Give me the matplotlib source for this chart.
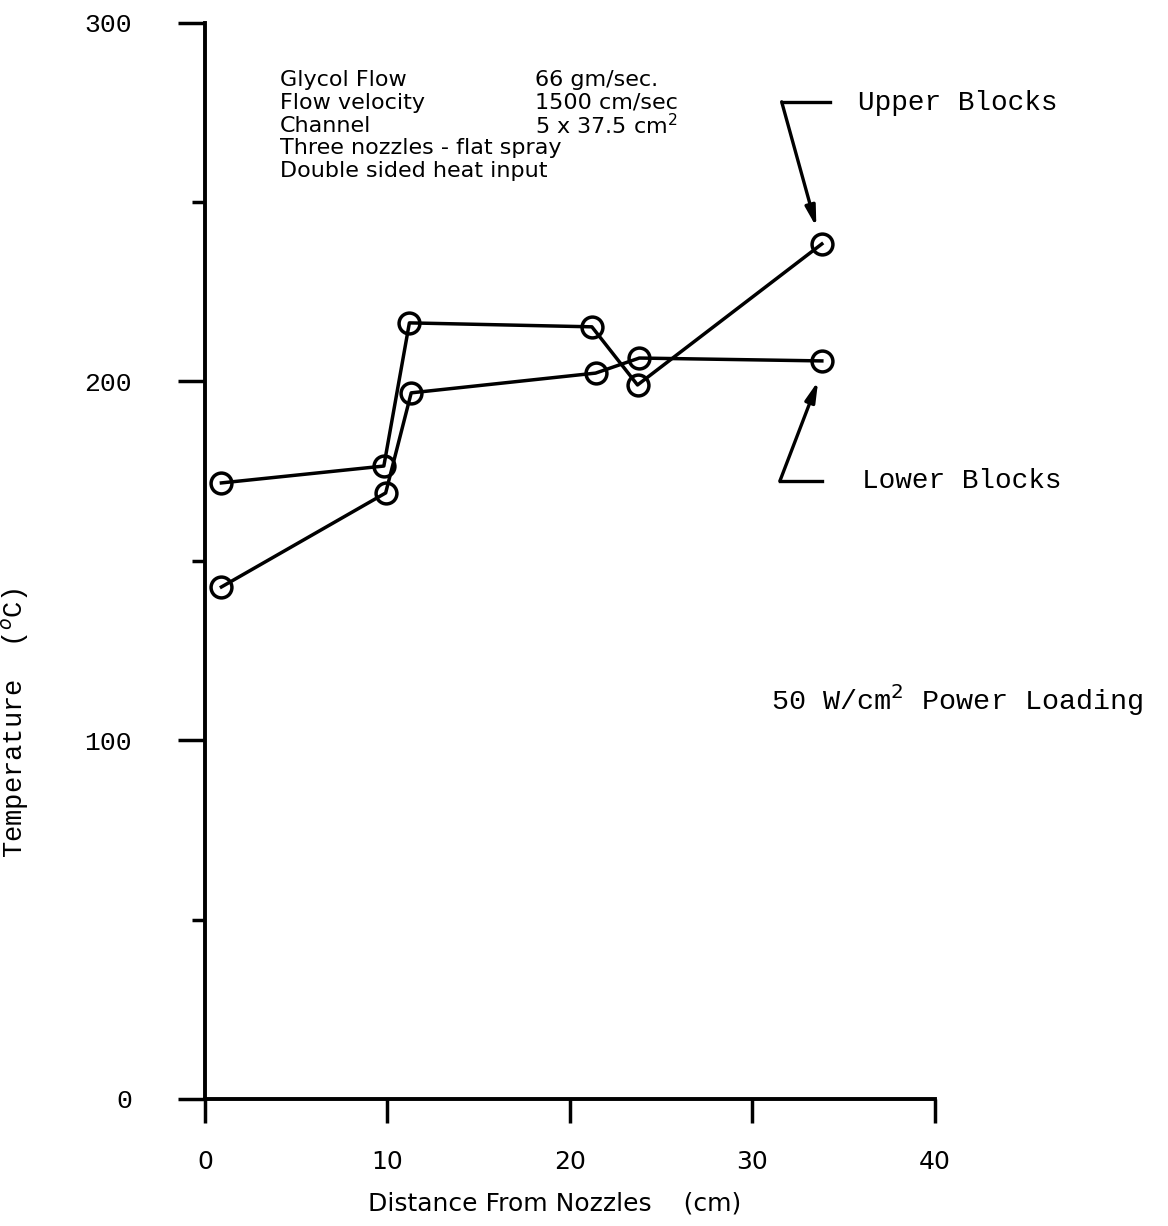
import matplotlib
matplotlib.use("Agg")
import matplotlib.pyplot as plt
from matplotlib.ticker import FixedLocator

# data
upper_x = [0.9, 9.8, 11.2, 21.2, 23.7, 33.8]
upper_y = [171.7, 176.4, 216.3, 215.2, 199.0, 238.3]
lower_x = [0.9, 9.9, 11.3, 21.4, 23.8, 33.8]
lower_y = [142.7, 168.9, 196.8, 202.3, 206.5, 205.7]

x_ticks = [0, 10, 20, 30, 40]
y_major = [0, 100, 200, 300]
y_minor = [50, 150, 250]

notes_left = ["Glycol Flow", "Flow velocity", "Channel",
              "Three nozzles - flat spray", "Double sided heat input"]
notes_right = ["66 gm/sec.", "1500 cm/sec", "5 x 37.5 cm$^2$"]

MONO = ["Liberation Mono", "DejaVu Sans Mono"]
NARROW = ["Liberation Sans Narrow", "DejaVu Sans"]

fig = plt.figure(figsize=(11.68, 12.26), dpi=100)
ax = fig.add_axes([0.1755, 0.1036, 0.625, 0.878])

for xs, ys in [(upper_x, upper_y), (lower_x, lower_y)]:
    ax.plot(xs, ys, color="black", lw=2.5, marker="o", ms=15,
            mfc="none", mec="black", mew=2.5, clip_on=False, zorder=3)

ax.set_xlim(0, 40)
ax.set_ylim(0, 300)

for s in ["top", "right"]:
    ax.spines[s].set_visible(False)
for s in ["left", "bottom"]:
    ax.spines[s].set_linewidth(2.8)

ax.set_xticks(x_ticks)
ax.set_yticks(y_major)
ax.yaxis.set_minor_locator(FixedLocator(y_minor))
ax.tick_params(axis="y", which="major", direction="out", length=19.5,
               width=2.5, pad=33)
ax.tick_params(axis="y", which="minor", direction="out", length=9.5,
               width=2.5)
ax.tick_params(axis="x", direction="out", length=17, width=2.5, pad=20)
for lab in ax.get_yticklabels():
    lab.set_fontfamily(MONO)
    lab.set_fontsize(19)
for lab in ax.get_xticklabels():
    lab.set_fontfamily(NARROW)
    lab.set_fontsize(18)

ax.set_ylabel("Temperature  ($^{o}$C)", family=MONO, fontsize=19.5)
ax.yaxis.set_label_coords(-0.238, 0.350)
ax.set_xlabel("Distance From Nozzles    (cm)", family=NARROW, fontsize=18)
ax.xaxis.set_label_coords(0.479, -0.086)

# conditions block
row_y = [284.0, 277.6, 271.2, 265.1, 258.6]
for t, yy in zip(notes_left, row_y):
    ax.text(4.1, yy, t, fontsize=16, ha="left", va="center")
for t, yy in zip(notes_right, row_y):
    ax.text(18.1, yy, t, fontsize=16, ha="left", va="center")

# series labels with leader arrows
ax.plot([34.25, 31.6], [277.9, 277.9], color="black", lw=2.4, clip_on=False)
ax.annotate("", xy=(33.5, 243.0), xytext=(31.6, 277.9),
            arrowprops=dict(arrowstyle="-|>,head_length=1.2,head_width=0.3",
                            color="black", lw=2.4, shrinkA=0, shrinkB=0),
            annotation_clip=False)
ax.text(35.8, 277.6, "Upper Blocks", family=MONO, fontsize=20,
        ha="left", va="center")

ax.plot([33.8, 31.5], [172.2, 172.2], color="black", lw=2.4, clip_on=False)
ax.annotate("", xy=(33.6, 200.1), xytext=(31.5, 172.2),
            arrowprops=dict(arrowstyle="-|>,head_length=1.2,head_width=0.3",
                            color="black", lw=2.4, shrinkA=0, shrinkB=0),
            annotation_clip=False)
ax.text(36.0, 172.2, "Lower Blocks", family=MONO, fontsize=20,
        ha="left", va="center")

ax.text(31.0, 111.2, "50 W/cm$^2$ Power Loading", family=MONO, fontsize=20.5,
        ha="left", va="center")

fig.savefig("out.png", dpi=100, facecolor="white")
